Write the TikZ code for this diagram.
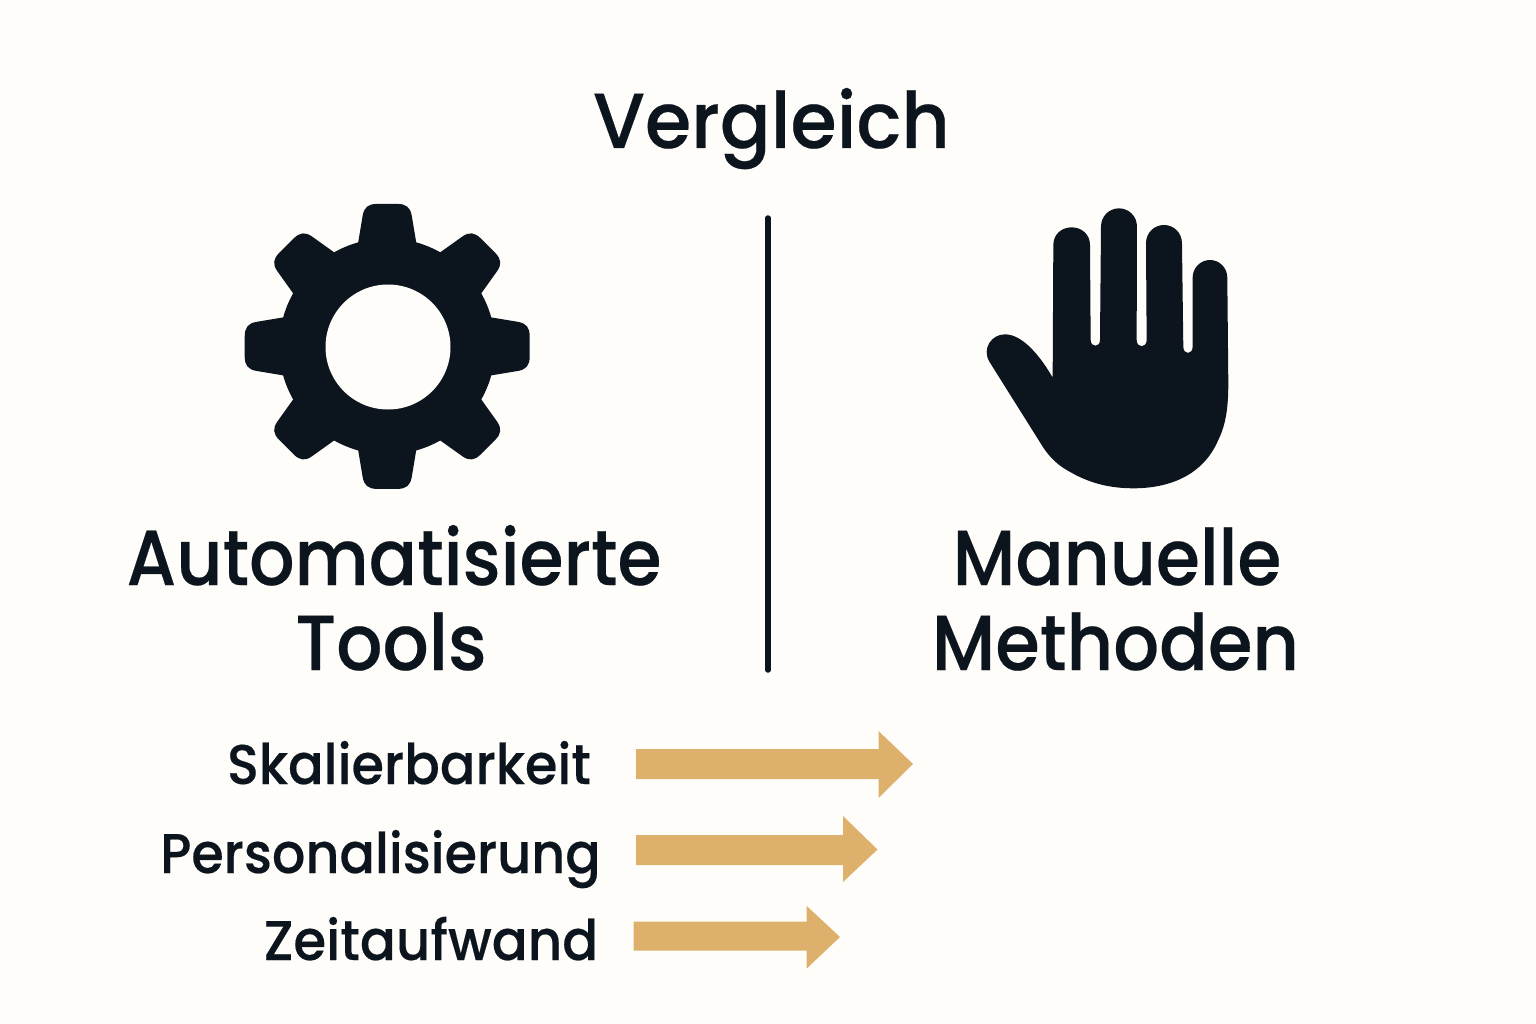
\documentclass[tikz,border=0pt]{standalone}
\usepackage{fontspec}
\usepackage{graphicx}
\setmainfont{Poppins Medium}[FakeBold=0.3]
\definecolor{bgc}{HTML}{FFFDF9}
\definecolor{ink}{HTML}{0C151D}
\definecolor{tan}{HTML}{DDB16B}
\tikzset{
  lab/.style={inner sep=0pt,anchor=base,text=ink,font=\fontsize{#1}{#1}\selectfont},
  barrow/.style={fill=tan,draw=none},
  icon/.style={fill=ink,draw=none}
}
\begin{document}
\begin{tikzpicture}[x=1pt,y=-1pt]
\useasboundingbox (0,0) rectangle (1536,1024);
\fill[bgc] (0,0) rectangle (1536,1024);
\node[lab=78] (title) at (771.5,148) {\scalebox{0.96}[1]{Vergleich}};
\node[lab=78] (auto1) at (394,585) {\scalebox{0.915}[1]{Automatisierte}};
\node[lab=78] (auto2) at (391,670) {\scalebox{0.93}[1]{Tools}};
\node[lab=78] (man1) at (1117,585) {\scalebox{0.912}[1]{Manuelle}};
\node[lab=78] (man2) at (1115.5,670) {\scalebox{0.923}[1]{Methoden}};
\node[lab=56] (sk) at (409,784) {\scalebox{0.94}[1]{Skalierbarkeit}};
\node[lab=56] (pe) at (380.5,873) {\scalebox{0.937}[1]{Personalisierung}};
\node[lab=56] (ze) at (431,960) {\scalebox{0.948}[1]{Zeitaufwand}};
\coordinate (divtop) at (768,218);
\coordinate (divbot) at (768,670);
\draw[ink,line width=5.5pt,line cap=round] (divtop) -- (divbot);
% gear
\begin{scope}[shift={(387.2,346.4)}]
\fill[icon] (0,0) circle (108);
\foreach \a in {0,45,...,315}{
 \fill[icon,rotate=\a] (-30,-95) -- (-29,-104) -- (-24.5,-131) .. controls (-23,-139) and (-19,-142.5) .. (-10,-142.5) -- (10,-142.5) .. controls (19,-142.5) and (23,-139) .. (24.5,-131) -- (29,-104) -- (30,-95) -- cycle;
}
\end{scope}
\fill[bgc] (388,347) circle (62.5);
% hand
\begin{scope}[shift={(970,195)},x=0.3333pt,y=-0.3333pt]
\fill[icon] (248,548) -- (250,150) .. controls (250,118) and (275,97) .. (305,97) .. controls (335,97) and (360,118) .. (360,150)
 -- (362,435) .. controls (362,458) and (390,458) .. (390,435)
 -- (393,95) .. controls (393,63) and (418,40) .. (447,40) .. controls (476,40) and (501,63) .. (501,95)
 -- (500,435) .. controls (500,460) and (530,460) .. (530,435)
 -- (528,145) .. controls (528,113) and (553,90) .. (582,90) .. controls (611,90) and (636,113) .. (636,145)
 -- (640,455) .. controls (640,480) and (668,480) .. (668,455)
 -- (668,248) .. controls (668,218) and (692,195) .. (720,195) .. controls (748,195) and (772,218) .. (772,248)
 -- (775,560) .. controls (775,620) and (772,680) .. (745,735) .. controls (700,840) and (600,880) .. (490,880)
 .. controls (400,880) and (340,855) .. (290,825) .. controls (255,805) and (230,775) .. (215,750)
 -- (58,500) .. controls (35,460) and (65,418) .. (105,418) .. controls (160,418) and (215,490) .. (248,548) -- cycle;
\end{scope}
% arrows
\fill[barrow] (636,749) -- (878.5,749) -- (878.5,731) -- (913,764) -- (878.5,798) -- (878.5,779) -- (636,779) -- cycle;
\fill[barrow] (636,835) -- (843,835) -- (843,816) -- (877.5,849.5) -- (843,882) -- (843,865) -- (636,865) -- cycle;
\fill[barrow] (633.5,921.7) -- (806.7,921.7) -- (806.7,906) -- (840,937) -- (806.7,968.5) -- (806.7,950.7) -- (633.5,950.7) -- cycle;
\end{tikzpicture}
\end{document}
